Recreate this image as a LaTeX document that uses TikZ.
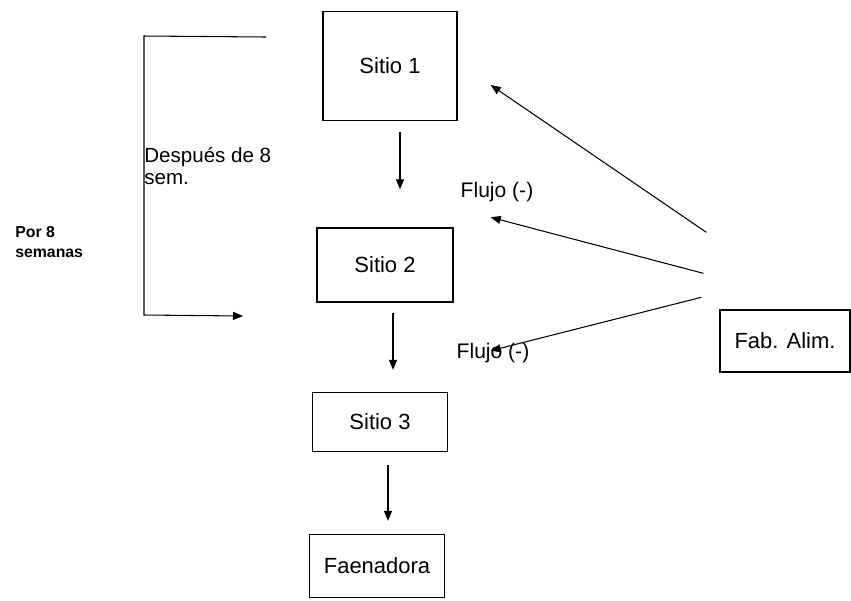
\documentclass[tikz,border=0pt]{standalone}
\usepackage{fontspec}
\setmainfont{Liberation Sans}
\usetikzlibrary{arrows.meta, calc}
\tikzset{
  block/.style={rectangle, draw=black, thick, align=center,
    font=\fontsize{12.5}{15}\selectfont, inner sep=2pt},
  arrow/.style={-{Triangle[length=2mm, width=1.6mm]}, semithick, black},
  smallnote/.style={font=\fontsize{11.7}{12.5}\selectfont, align=left, inner sep=0pt},
  tinynote/.style={font=\fontsize{9}{11.3}\selectfont\bfseries, align=left, inner sep=0pt},
  flowlabel/.style={font=\fontsize{12}{14}\selectfont, inner sep=0pt},
}

\begin{document}
\begin{tikzpicture}[x=0.02cm, y=-0.02cm]
\useasboundingbox (0,0) rectangle (851,600);
% the sites, top to bottom
\node[block, minimum width=2.68cm, minimum height=2.18cm] (sitio1) at (390,66) {Sitio 1};
\node[block, minimum width=2.72cm, minimum height=1.48cm] (sitio2) at (385,265) {Sitio 2};
\node[block, minimum width=2.7cm, minimum height=1.18cm] (sitio3) at (380,422) {Sitio 3};
\node[block, minimum width=2.7cm, minimum height=1.26cm] (faena) at (377,566) {Faenadora};
\node[block, minimum width=2.6cm, minimum height=1.24cm] (fab) at (785,341) {Fab. Alim.};
\draw[arrow] ($(sitio1.south)+(10,11)$) -- ($(sitio2.north)+(15,-38)$);
\draw[arrow] ($(sitio2.south)+(8,10)$) -- ($(sitio3.north)+(13,-22)$);
\draw[arrow] ($(sitio3.south)+(8,13)$) -- ($(faena.north)+(11,-13)$);
% feed
\draw[arrow] ($(fab.north west)+(-13,-77)$) -- ($(sitio1.east)+(33,19)$);
\draw[arrow] ($(fab.north west)+(-16,-36)$) -- ($(sitio2.north east)+(37,-10)$);
\draw[arrow] ($(fab.north west)+(-18,-12)$) -- ($(sitio2.south east)+(37,48)$);
\node[flowlabel] (flujo1) at (497,192) {Flujo (-)};
\node[flowlabel] (flujo2) at (493,353) {Flujo (-)};
% loop of 8 weeks
\coordinate (looptop) at (266,37);
\coordinate (loopend) at (243,316);
\draw[arrow] (looptop) -- (144,36) -- (144,315) -- (loopend);
\node[smallnote, anchor=west] (despues) at (144,166) {Después de 8\\sem.};
\node[tinynote, anchor=west] (por8) at (15,242) {Por 8\\semanas};
\end{tikzpicture}
\end{document}
